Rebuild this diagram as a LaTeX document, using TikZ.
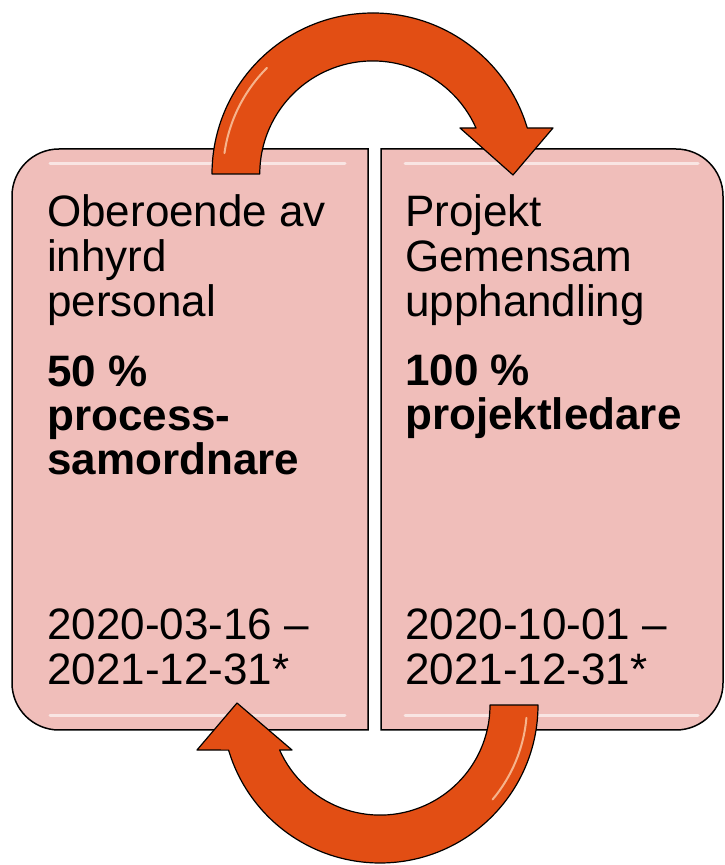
\documentclass[tikz,border=0pt]{standalone}
\usepackage{fontspec}
\setmainfont{Liberation Sans}
\definecolor{boxpink}{HTML}{F0BEBA}
\definecolor{arroworange}{HTML}{E24E14}

\begin{document}
\begin{tikzpicture}[x=1pt, y=1pt,
    box/.style={draw=black, line width=1.5pt, fill=boxpink},
    loop/.style={draw=black, line width=1.2pt, fill=arroworange, line join=round},
    gloss/.style={draw=white, line width=3pt, opacity=0.6, line cap=round},
    shine/.style={draw=orange!25!white, line width=2pt, opacity=0.7, line cap=round},
    txt/.style={anchor=base west, align=left, inner sep=0pt, font=\fontsize{44}{45}\selectfont},
    bold/.style={txt, font=\fontsize{44}{44}\selectfont\bfseries}]
    \useasboundingbox (0,0) rectangle (725,865);
    % boxes
    \draw[box] (368,135) -- (59,135) arc[start angle=270, end angle=180, radius=47]
        -- (12,669) arc[start angle=180, end angle=90, radius=47] -- (368,716) -- cycle;
    \draw[box] (381,135) -- (676,135) arc[start angle=270, end angle=360, radius=47]
        -- (723,669) arc[start angle=0, end angle=90, radius=47] -- (381,716) -- cycle;
    \draw[gloss] (50,701) -- (345,701);
    \draw[gloss] (50,149) -- (345,149);
    \draw[gloss] (405,701) -- (698,701);
    \draw[gloss] (405,149) -- (698,149);
    % arrows
    \draw[loop] (212,691) arc[start angle=180, end angle=16.6, radius=161]
        -- (553,737) -- (513,690) -- (460,737) -- (476,737)
        arc[start angle=24, end angle=180, radius=113] -- cycle;
    \draw[shine] (373,691) ++(172:150) arc[start angle=172, end angle=135, radius=150];
    \draw[loop] (538,160) arc[start angle=0, end angle=-163.4, radius=158]
        -- (197,115) -- (237,162) -- (292,115) -- (279.6,115)
        arc[start angle=-155.9, end angle=0, radius=110] -- cycle;
    \draw[shine] (380,160) ++(-5:147) arc[start angle=-5, end angle=-40, radius=147];
    % texts (base = last line)
    \node[txt] (leftname) at (47,548) {Oberoende av\\inhyrd\\personal};
    \node[bold] (leftrole) at (47,390) {50 \%\\process-\\samordnare};
    \node[txt] (leftdate) at (47,180) {2020-03-16 –\\2021-12-31*};
    \node[txt] (rightname) at (405,548) {Projekt\\Gemensam\\upphandling};
    \node[bold] (rightrole) at (405,435) {100 \%\\projektledare};
    \node[txt] (rightdate) at (405,180) {2020-10-01 –\\2021-12-31*};
\end{tikzpicture}
\end{document}
